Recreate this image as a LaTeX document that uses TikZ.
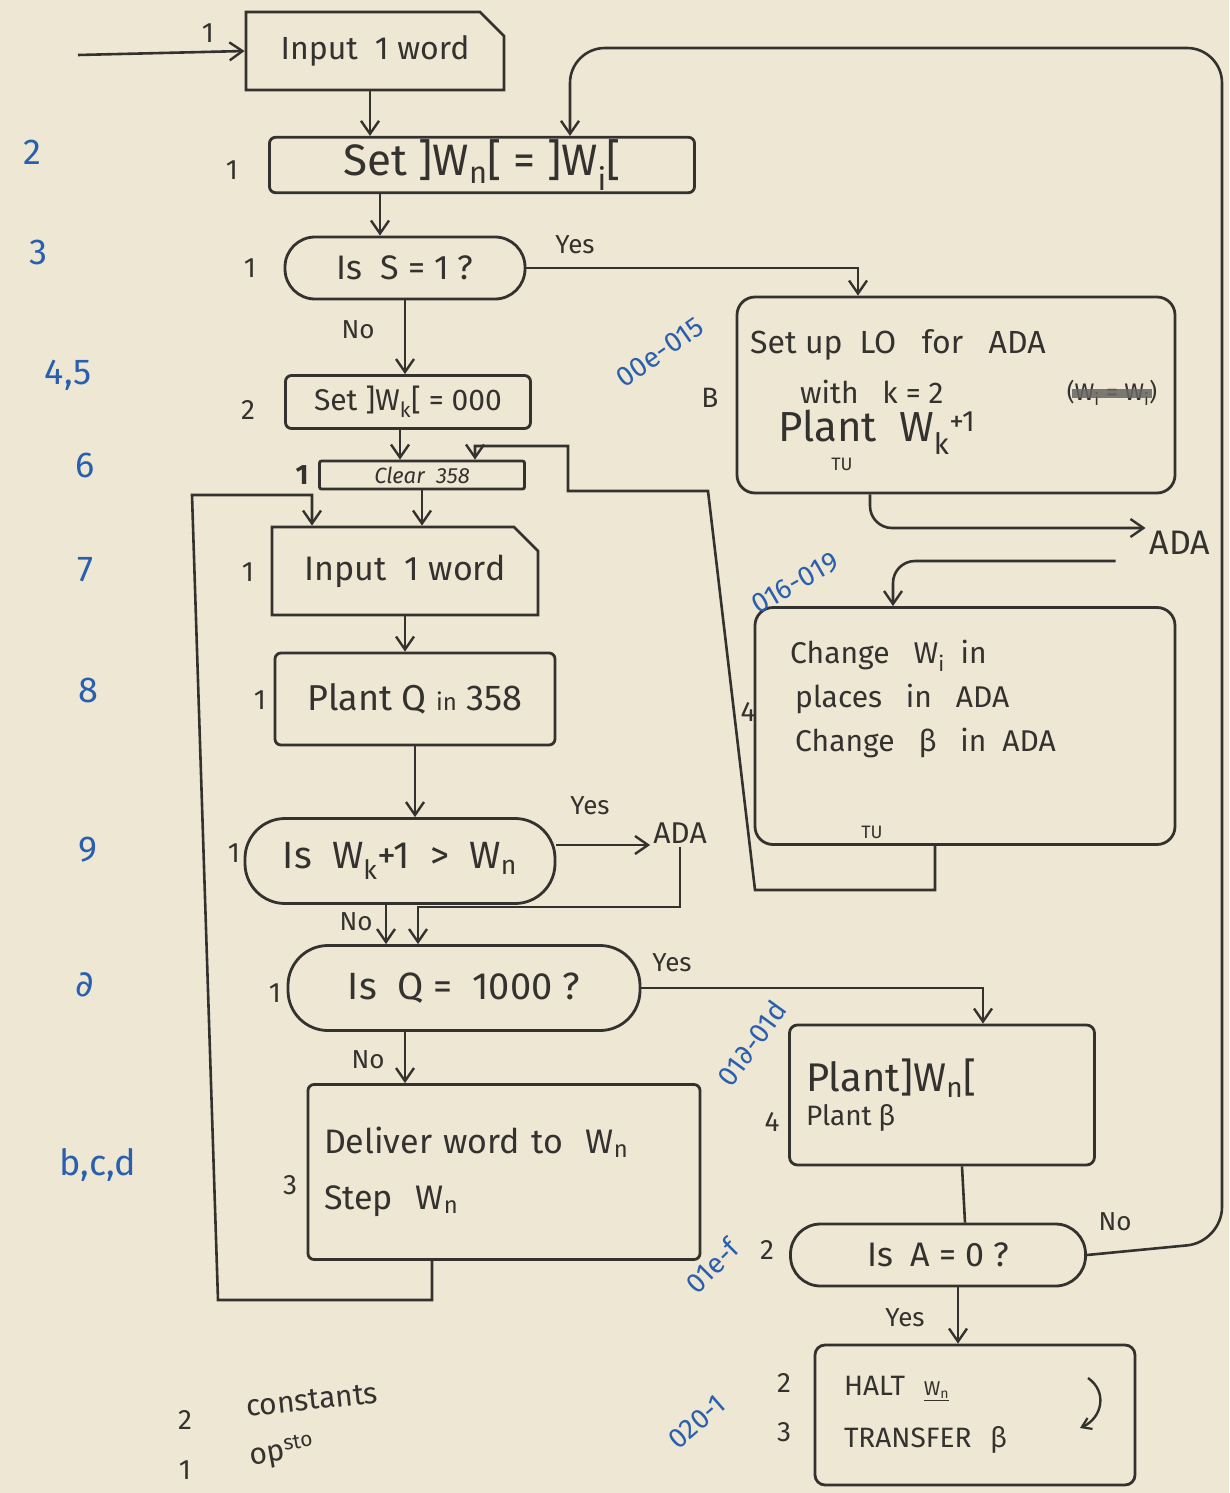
\documentclass[tikz,border=0pt]{standalone}
\usepackage{fontspec}
\setmainfont{Fira Sans}
\newfontfamily\dejavu{DejaVu Sans}
\usetikzlibrary{shapes.misc,arrows.meta,calc}
\definecolor{paper}{RGB}{238,231,212}
\definecolor{pencil}{RGB}{52,50,47}
\definecolor{inkblue}{RGB}{40,95,175}
\newcommand\sub[1]{\textsubscript{#1}}
\newcommand\fs[2]{\fontsize{#1}{#2}\selectfont}
\begin{document}
\begin{tikzpicture}[x=1pt,y=-1pt,color=pencil,
  box/.style={draw,line width=2.8pt,rounded corners=6pt,inner sep=4pt},
  chbox/.style={draw,line width=2.8pt,sharp corners,chamfered rectangle,chamfered rectangle corners=north east,chamfered rectangle xsep=12pt,chamfered rectangle ysep=12pt,inner sep=4pt},
  pill/.style={draw,line width=2.8pt,rounded corners=#1,inner sep=4pt},
  arr/.style={line width=2.6pt,-{Straight Barb[length=13pt,width=18pt,line width=2.4pt]}},
  arrs/.style={line width=2.4pt,-{Straight Barb[length=9pt,width=12pt,line width=2.2pt]}},
  wire/.style={line width=2.6pt},
  num/.style={font=\fs{28}{32},inner sep=1pt},
  bl/.style={text=inkblue,font=\fs{36}{40},inner sep=1pt},
  blr/.style={text=inkblue,font=\fs{28}{32},inner sep=0pt},
  lbl/.style={font=\fs{26}{30},inner sep=1pt},
  strike/.style={line width=9pt,color=pencil!75,opacity=0.85}
]
\fill[paper] (0,0) rectangle (1229,1493);
\useasboundingbox (0,0) rectangle (1229,1493);

% ---------- main column ----------
\node[chbox,minimum width=258pt,minimum height=78pt,font=\fs{32}{38}] (in1) at (375,51) {Input \ 1 word};
\node[box,minimum width=425pt,minimum height=50pt,inner sep=2pt,font=\fs{44}{48}] (set1) at (482,165) {Set ]W\sub{n}[ = ]W\sub{i}[};
\node[pill=30pt,minimum width=240pt,minimum height=62pt,font=\fs{34}{40}] (q1) at (405,268) {Is \ S = 1 ?};
\node[box,minimum width=245pt,minimum height=53pt,font=\fs{30}{36}] (setk) at (408,402) {Set ]W\sub{k}[ = 000};
\node[box,rounded corners=2pt,minimum width=205pt,minimum height=28pt,inner sep=1pt,font=\fs{22}{26}\itshape] (clr) at (422,475) {Clear \ 358};
\node[chbox,minimum width=266pt,minimum height=88pt,font=\fs{34}{40}] (in2) at (405,571) {Input \ 1 word};
\node[box,minimum width=280pt,minimum height=92pt,font=\fs{36}{42}] (pq) at (415,699) {Plant Q {\fs{24}{28}in} 358};
\node[pill=40pt,minimum width=310pt,minimum height=85pt,font=\fs{38}{44}] (q2) at (400,861) {Is \ W\sub{k}+1 \ > \ W\sub{n}};
\node[font=\fs{30}{34},inner sep=3pt] (ada1) at (680,833) {ADA};
\node[pill=40pt,minimum width=352pt,minimum height=85pt,font=\fs{38}{44}] (q3) at (464,988) {Is \ Q = \ 1000 ?};
\node[box,minimum width=392pt,minimum height=175pt,text width=360pt,align=left,font=\fs{34}{56}] (dlv) at (504,1172) {Deliver word to \ W\sub{n}\\Step \ W\sub{n}};

% ---------- right column ----------
\node[box,rounded corners=18pt,minimum width=438pt,minimum height=196pt] (setup) at (956,395) {};
\node[font=\fs{32}{38},anchor=west,inner sep=0pt] (s1) at (750,345) {Set up \ LO \ \ for \ \ ADA};
\node[font=\fs{30}{36},anchor=west,inner sep=0pt] (s2) at (800,392) {with \ \ k = 2};
\node[font=\fs{24}{28},inner sep=1pt] (sk) at (1112,393) {(W\sub{i} = W\sub{i})};
\draw[strike] ([xshift=6pt]sk.west) -- ([xshift=-6pt]sk.east);
\node[font=\fs{42}{48},anchor=west,inner sep=0pt] (s3) at (778,432) {Plant \ W\sub{k}\textsuperscript{+1}};
\node[font=\fs{18}{22},inner sep=1pt] (tu1) at (842,464) {TU};
\node[font=\fs{34}{40},inner sep=4pt] (ada2) at (1180,543) {ADA};
\node[box,rounded corners=18pt,minimum width=420pt,minimum height=237pt] (chg) at (965,726) {};
\node[font=\fs{30}{44},anchor=north west,align=left,inner sep=0pt] (ct) at (790,640) {Change \ \ W\sub{i} \ in\\ \,places \ \ in \ \ ADA\\ \,Change \ \ β \ \ in \ ADA};
\node[font=\fs{18}{22},inner sep=1pt] (tu2) at (872,832) {TU};
\node[box,rounded corners=8pt,minimum width=305pt,minimum height=140pt,text width=272pt,align=left] (plw) at (942,1095) {{\fs{40}{50}Plant]W\sub{n}[}\\[6pt]{\fs{28}{34}Plant \ β}};
\node[pill=30pt,minimum width=295pt,minimum height=62pt,font=\fs{34}{40}] (q4) at (938,1255) {Is \ A = 0 ?};
\node[box,rounded corners=10pt,minimum width=320pt,minimum height=140pt,text width=262pt,align=left,font=\fs{28}{52}] (halt) at (975,1415) {HALT \ \underline{\fs{20}{24}W\sub{n}}\\TRANSFER \ β};

% ---------- waypoints ----------
\coordinate (start) at (78,55);
\coordinate (j1) at (0,907);
\coordinate (lpb) at (218,1300);
\coordinate (lpt) at (192,495);
\coordinate (c1) at (755,890);
\coordinate (c2) at (708,491);
\coordinate (c3) at (568,491);
\coordinate (c4) at (568,446);
\coordinate (c5) at (1222,1242);
\coordinate (c6) at (1222,48);

% ---------- connectors ----------
\draw[arr] (start) -- (in1.west);
\draw[arr] ([xshift=-5pt]in1.south) -- ([xshift=-5pt]in1.south |- set1.north);
\draw[arr] ([xshift=-25pt]q1.north |- set1.south) -- ([xshift=-25pt]q1.north);
\draw[arr] (q1.east) -| ([xshift=-98pt]setup.north);
\draw[arr] (q1.south) -- (q1.south |- setk.north);
\draw[arr] ([xshift=-8pt]setk.south) -- ([xshift=-8pt]setk.south |- clr.north);
\draw[arr] (clr.south) -- (clr.south |- in2.north);
\draw[arr] (in2.south) -- (in2.south |- pq.north);
\draw[arr] (pq.south) -- (pq.south |- q2.north);
\draw[arr] ([yshift=16pt]q2.east) -- ([yshift=16pt]q2.east -| ada1.west);
\draw[arr] (ada1.south) -- (ada1.south |- j1) -| ([xshift=-46pt]q3.north);
\draw[arr] ([xshift=-14pt]q2.south) -- ([xshift=-14pt]q2.south |- q3.north);
\draw[arr] (q3.east) -| ([xshift=41pt]plw.north);
\draw[arr] ([xshift=-59pt]q3.south) -- ([xshift=-59pt]q3.south |- dlv.north);
\draw[arr] ([xshift=-72pt]dlv.south) |- (lpb) -- (lpt) -| ([xshift=-93pt]in2.north);
\draw[arr,rounded corners=22pt] ([xshift=-86pt]setup.south) |- ([yshift=15pt]ada2.west);
\draw[arr,rounded corners=22pt] ([xshift=-30pt,yshift=-18pt]ada2.west) -| ([xshift=-72pt]chg.north);
\draw[arr] ([xshift=-30pt]chg.south) |- (c1) -- (c2) -- (c3) -- (c4) -| ([xshift=53pt]clr.north);
\draw[wire] ([xshift=20pt]plw.south) -- ([xshift=27pt]q4.north);
\draw[arr,rounded corners=35pt] (q4.east) -- (c5) -- (c6) -| ([xshift=88pt]set1.north);
\draw[arr] ([xshift=20pt]q4.south) -- ([xshift=20pt]q4.south |- halt.north);
\draw[arrs] (1088,1378) .. controls (1108,1392) and (1102,1418) .. (1080,1428);

% ---------- connector labels ----------
\node[lbl] (ly1) at (575,245) {Yes};
\node[lbl] (ln1) at (358,330) {No};
\node[lbl] (ly2) at (590,806) {Yes};
\node[lbl] (ln2) at (356,922) {No};
\node[lbl] (ly3) at (672,963) {Yes};
\node[lbl] (ln3) at (368,1060) {No};
\node[lbl] (ln4) at (1115,1222) {No};
\node[lbl] (ly4) at (905,1318) {Yes};

% ---------- side numbers ----------
\node[num] (n0) at (208,33) {1};
\node[num] (n1) at (232,170) {1};
\node[num] (n2) at (250,268) {1};
\node[num] (n3) at (248,410) {2};
\node[num,font=\fs{28}{32}\bfseries] (n4) at (302,475) {1};
\node[num] (n5) at (248,572) {1};
\node[num] (n6) at (260,700) {1};
\node[num] (n7) at (234,853) {1};
\node[num] (n8) at (275,993) {1};
\node[num] (n9) at (290,1185) {3};
\node[num] (n10) at (710,398) {B};
\node[num] (n11) at (748,712) {4};
\node[num] (n12) at (772,1122) {4};
\node[num] (n13) at (767,1250) {2};
\node[num] (n14) at (784,1383) {2};
\node[num] (n15) at (784,1432) {3};

% ---------- blue annotations ----------
\node[bl] (b1) at (32,152) {2};
\node[bl] (b2) at (38,252) {3};
\node[bl] (b3) at (68,375) {4,5};
\node[bl] (b4) at (85,465) {6};
\node[bl] (b5) at (85,570) {7};
\node[bl] (b6) at (88,690) {8};
\node[bl] (b7) at (88,850) {9};
\node[bl,font=\fs{36}{40}\dejavu] (b8) at (85,985) {∂};
\node[bl] (b9) at (98,1165) {b,c,d};
\node[blr,rotate=35] (r1) at (660,352) {00e-015};
\node[blr,rotate=30] (r2) at (795,583) {016-019};
\node[blr,rotate=54] (r3) at (752,1043) {01{\dejavu ∂}-01d};
\node[blr,rotate=45] (r4) at (712,1266) {01e-f};
\node[blr,rotate=41] (r5) at (697,1422) {020-1};

% ---------- bottom notes ----------
\node[num] (m1) at (185,1420) {2};
\node[font=\fs{30}{34},rotate=6,inner sep=1pt] (m2) at (312,1400) {constants};
\node[num] (m3) at (185,1470) {1};
\node[font=\fs{30}{34},rotate=10,inner sep=1pt] (m4) at (282,1452) {op\textsuperscript{sto}};
\end{tikzpicture}
\end{document}
